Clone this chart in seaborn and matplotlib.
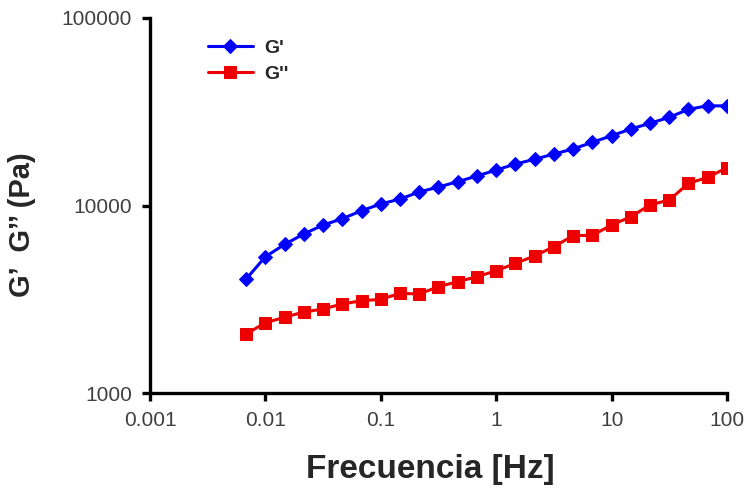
import numpy as np
import pandas as pd
import seaborn as sns
import matplotlib.pyplot as plt
from matplotlib.ticker import FixedLocator, NullLocator

# --- data ---
freq = [0.00681, 0.01, 0.0147, 0.0215, 0.0316, 0.0464, 0.0681, 0.1, 0.147,
        0.215, 0.316, 0.464, 0.681, 1, 1.47, 2.15, 3.16, 4.64, 6.81, 10,
        14.7, 21.5, 31.6, 46.4, 68.1, 100]
g_storage = [4055, 5330, 6210, 7045, 7870, 8500, 9380, 10190, 10830, 11800,
             12550, 13400, 14370, 15460, 16650, 17640, 18820, 20020, 21730,
             23560, 25590, 27430, 29540, 32580, 34050, 33960]
g_loss = [2065, 2370, 2535, 2705, 2805, 2985, 3105, 3160, 3400, 3375, 3690,
          3925, 4170, 4490, 4915, 5380, 6030, 6900, 6935, 7870, 8715, 10070,
          10700, 13130, 14130, 15910]

x_ticks = [0.001, 0.01, 0.1, 1, 10, 100]
x_tick_labels = ["0.001", "0.01", "0.1", "1", "10", "100"]
y_ticks = [1000, 10000, 100000]
y_tick_labels = ["1000", "10000", "100000"]

sns.set_style("white")
plt.rcParams['font.family'] = ['Liberation Sans', 'DejaVu Sans']

fig = plt.figure(figsize=(7.47, 4.93), dpi=100)
ax = fig.add_axes([0.2008, 0.2028, 0.7724, 0.7607])

df = pd.DataFrame({"freq": freq, "G'": g_storage, "G''": g_loss})

sns.lineplot(data=df, x="freq", y="G'", ax=ax, color="#0000ff", marker="D",
             markersize=7, markeredgecolor="#0000ff", linewidth=2.2, label="G'")
sns.lineplot(data=df, x="freq", y="G''", ax=ax, color="#ee0000", marker="s",
             markersize=8, markeredgecolor="#ee0000", linewidth=2.2, label="G''")

ax.set_xscale("log")
ax.set_yscale("log")
ax.set_xlim(0.001, 100)
ax.set_ylim(1000, 100000)

ax.xaxis.set_major_locator(FixedLocator(x_ticks))
ax.xaxis.set_minor_locator(NullLocator())
ax.set_xticklabels(x_tick_labels)
ax.yaxis.set_major_locator(FixedLocator(y_ticks))
ax.yaxis.set_minor_locator(NullLocator())
ax.set_yticklabels(y_tick_labels)

for side in ["top", "right"]:
    ax.spines[side].set_visible(False)
for side in ["left", "bottom"]:
    ax.spines[side].set_linewidth(2.4)
    ax.spines[side].set_color("black")

ax.tick_params(axis="both", which="major", direction="out", length=6,
               width=2.4, color="black", labelsize=15, labelcolor="#404040",
               pad=7, bottom=True, left=True)

ax.set_xlabel("Frecuencia [Hz]", fontsize=24, fontweight="bold")
ax.xaxis.set_label_coords(0.486, -0.245, transform=ax.transAxes)
ax.xaxis.label.set_verticalalignment("bottom")
ax.set_ylabel("G’  G’’ (Pa)", fontsize=21, fontweight="bold")
ax.yaxis.set_label_coords(-0.198, 0.45, transform=ax.transAxes)

leg = ax.legend(loc="upper left", bbox_to_anchor=(0.07, 0.99), frameon=False,
                handlelength=2.3, handletextpad=0.6, fontsize=14,
                labelspacing=0.45)
for t in leg.get_texts():
    t.set_fontweight("bold")

fig.savefig("out.png", dpi=100)
